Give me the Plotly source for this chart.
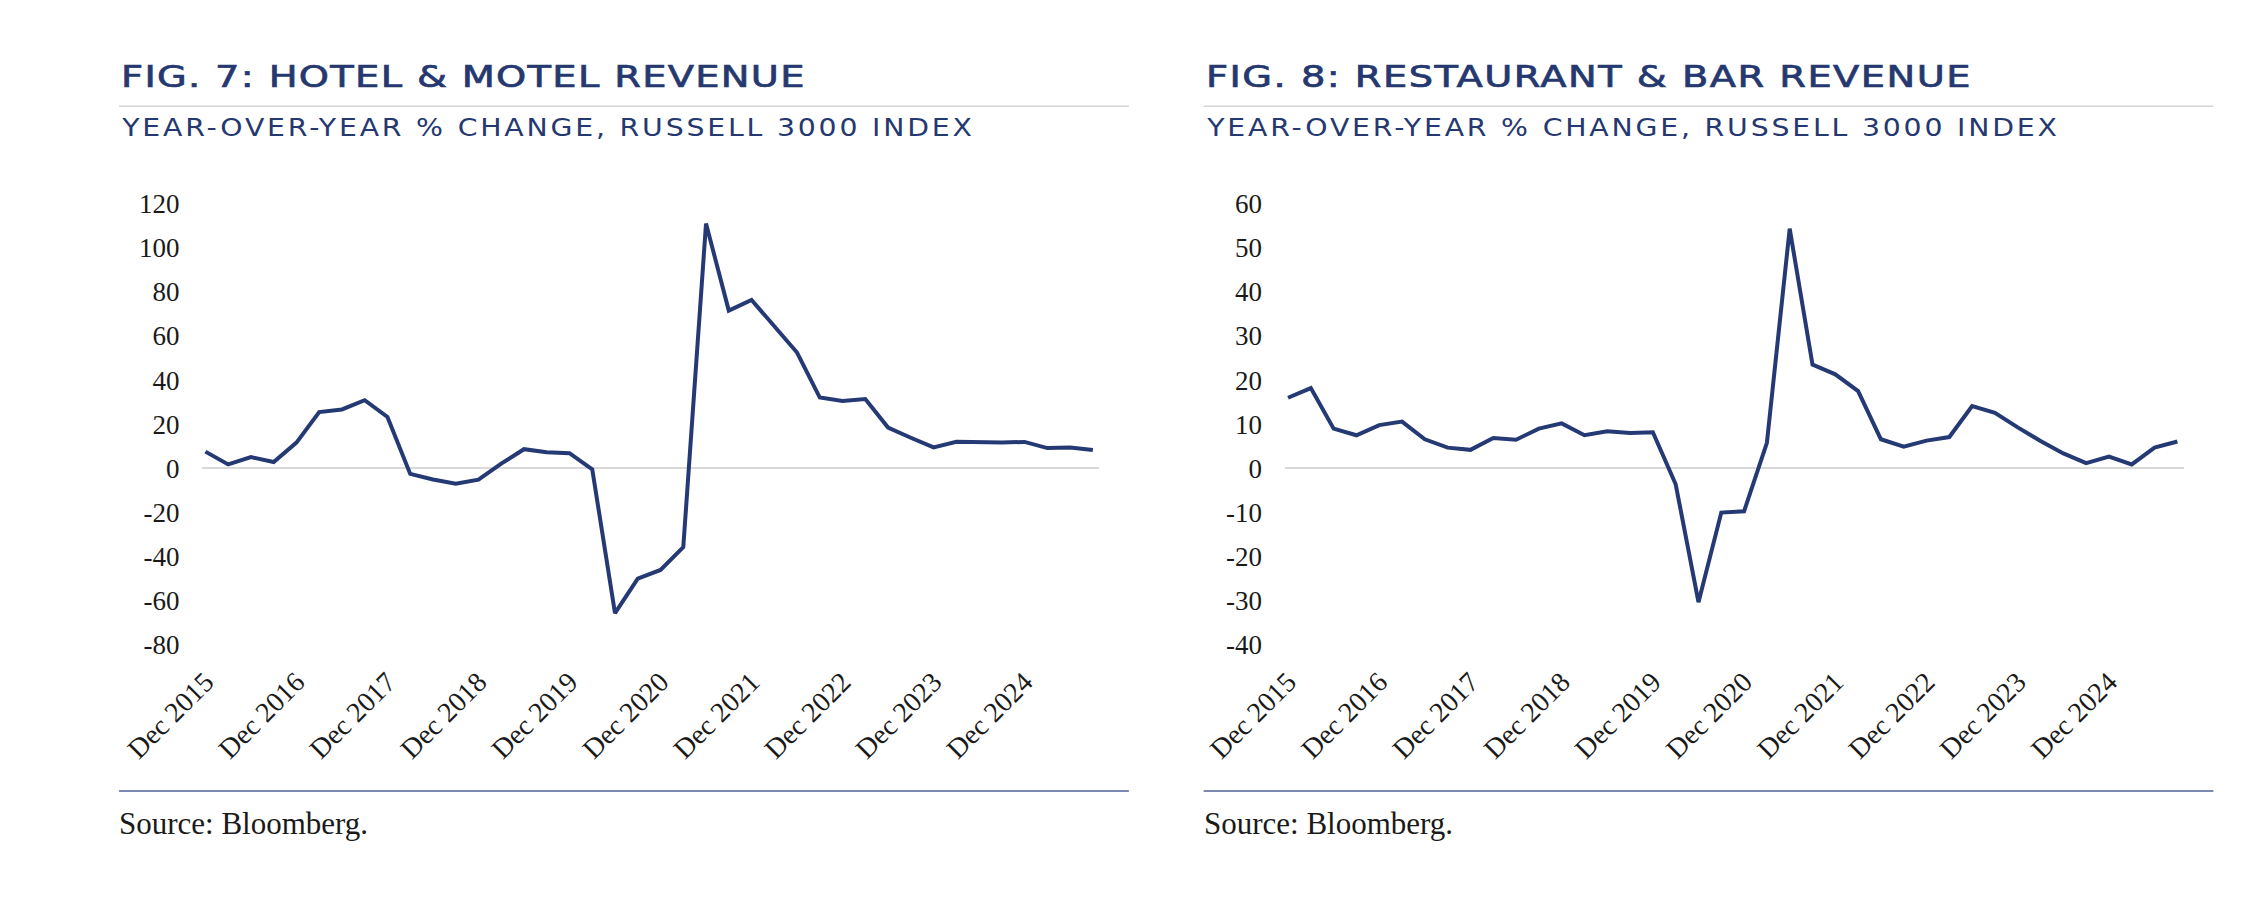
import plotly.graph_objects as go

quarters = [
    "Dec 2015", "Mar 2016", "Jun 2016", "Sep 2016", "Dec 2016", "Mar 2017", "Jun 2017", "Sep 2017",
    "Dec 2017", "Mar 2018", "Jun 2018", "Sep 2018", "Dec 2018", "Mar 2019", "Jun 2019", "Sep 2019",
    "Dec 2019", "Mar 2020", "Jun 2020", "Sep 2020", "Dec 2020", "Mar 2021", "Jun 2021", "Sep 2021",
    "Dec 2021", "Mar 2022", "Jun 2022", "Sep 2022", "Dec 2022", "Mar 2023", "Jun 2023", "Sep 2023",
    "Dec 2023", "Mar 2024", "Jun 2024", "Sep 2024", "Dec 2024", "Mar 2025", "Jun 2025", "Sep 2025",
]
tick_labels = ["Dec 2015", "Dec 2016", "Dec 2017", "Dec 2018", "Dec 2019",
               "Dec 2020", "Dec 2021", "Dec 2022", "Dec 2023", "Dec 2024"]

hotel = [7.6, 1.8, 5.1, 2.9, 11.7, 25.5, 26.7, 30.9, 23.3, -2.5,
         -5.0, -6.9, -5.1, 2.2, 8.7, 7.3, 6.9, -0.4, -65.6, -49.9,
         -46.0, -35.7, 110.9, 71.5, 76.3, 64.5, 52.5, 32.1, 30.5, 31.4,
         18.5, 13.9, 9.5, 12.1, 11.7, 11.7, 12.0, 9.2, 9.5, 8.3]
restaurant = [16.0, 18.2, 9.0, 7.5, 9.8, 10.6, 6.6, 4.7, 4.2, 6.9,
              6.5, 9.0, 10.2, 7.5, 8.4, 8.0, 8.2, -3.6, -30.3, -10.0,
              -9.7, 5.8, 54.3, 23.5, 21.3, 17.5, 6.6, 4.9, 6.3, 7.1,
              14.1, 12.6, 9.3, 6.2, 3.4, 1.2, 2.7, 0.9, 4.7, 6.1]

hotel_yticks = [-80, -60, -40, -20, 0, 20, 40, 60, 80, 100, 120]
rest_yticks = [-40, -30, -20, -10, 0, 10, 20, 30, 40, 50, 60]

titles = ["FIG. 7: HOTEL & MOTEL REVENUE", "FIG. 8: RESTAURANT & BAR REVENUE"]
subtitle = "YEAR-OVER-YEAR % CHANGE, RUSSELL 3000 INDEX"
source = "Source: Bloomberg."

W, H = 2251, 901
NAVY = "#25386f"
LINE = "#253a74"
SERIF = "Liberation Serif"
SANS = "DejaVu Sans"

def px(x):
    return x / W

def py(y):
    return 1 - y / H

fig = go.Figure()
fig.add_trace(go.Scatter(x=quarters, y=hotel, mode="lines",
                         line=dict(color=LINE, width=4), xaxis="x", yaxis="y",
                         showlegend=False))
fig.add_trace(go.Scatter(x=quarters, y=restaurant, mode="lines",
                         line=dict(color=LINE, width=4), xaxis="x2", yaxis="y2",
                         showlegend=False))

ydom = [py(651.7), py(195)]
common_x = dict(type="category", range=[-0.13, 39.27], showgrid=False, zeroline=False,
                showline=False, ticks="", tickvals=tick_labels, ticktext=tick_labels,
                tickangle=-45, tickfont=dict(family=SERIF, size=28, color="#1a1a1a"),
                ticklabelstandoff=14)
common_y = dict(showgrid=False, zeroline=True, zerolinecolor="#d9d9d9", zerolinewidth=1.5,
                showline=False, ticks="", tickfont=dict(family=SERIF, size=27, color="#1a1a1a"),
                ticklabelstandoff=22, domain=ydom)

fig.update_layout(
    width=W, height=H, margin=dict(l=0, r=0, t=0, b=0),
    paper_bgcolor="white", plot_bgcolor="white",
    xaxis=dict(domain=[px(126), px(1056)], anchor="y", **common_x),
    yaxis=dict(anchor="x", range=[-80, 120], tickvals=hotel_yticks,
               ticktext=[str(v) for v in hotel_yticks], **common_y),
    xaxis2=dict(domain=[px(1249), px(2181)], anchor="y2", **common_x),
    yaxis2=dict(anchor="x2", range=[-40, 60], tickvals=rest_yticks,
                ticktext=[str(v) for v in rest_yticks], **common_y),
)

annotations = []
shapes = []
for i, (x0, x1) in enumerate([(39.5, 1087), (1164.5, 2212)]):
    annotations.append(dict(text=titles[i], x=px(x0), y=py(64), xref="paper", yref="paper",
                            xanchor="left", yanchor="middle", align="left", showarrow=False,
                            font=dict(family=SANS, size=30, color=NAVY)))
    annotations.append(dict(text=subtitle, x=px(x0), y=py(116.5), xref="paper", yref="paper",
                            xanchor="left", yanchor="middle", align="left", showarrow=False,
                            font=dict(family=SANS, size=24, color=NAVY)))
    annotations.append(dict(text=source, x=px(x0 - 2), y=py(836), xref="paper", yref="paper",
                            xanchor="left", yanchor="middle", align="left", showarrow=False,
                            font=dict(family=SERIF, size=31, color="#1a1a1a")))
    shapes.append(dict(type="line", xref="paper", yref="paper", x0=px(x0), x1=px(x1),
                       y0=py(94.3), y1=py(94.3), line=dict(color="#d4d4d4", width=1.5)))
    shapes.append(dict(type="line", xref="paper", yref="paper", x0=px(x0), x1=px(x1),
                       y0=py(802.7), y1=py(802.7), line=dict(color="#7d89b3", width=2)))
fig.update_layout(annotations=annotations, shapes=shapes)

post = """
(function(){
  function spec(s){
    if (s.indexOf('FIG. 7') === 0) return [684, 1.28, 0.7];
    if (s.indexOf('FIG. 8') === 0) return [765, 1.28, 0.7];
    if (s.indexOf('YEAR-OVER') === 0) return [850, 1.18, 0];
    return null;
  }
  function apply(){
    document.body.style.margin = '0';
    document.querySelectorAll('text.annotation-text').forEach(function(t){
      var s = t.textContent || '';
      var sp = spec(s);
      if (!sp) return;
      t.removeAttribute('letter-spacing');
      t.removeAttribute('transform');
      var len = t.getComputedTextLength();
      var sx = sp[1];
      if (len * sx > sp[0]) sx = sp[0] / len;
      var ls = (sp[0] / sx - len) / Math.max(1, s.length - 1);
      if (ls > 0) t.setAttribute('letter-spacing', ls.toFixed(2) + 'px');
      var bb = t.getBBox();
      var x0 = bb.x;
      t.setAttribute('transform', 'translate(' + x0 + ',0) scale(' + sx.toFixed(3) + ',1) translate(' + (-x0) + ',0)');
      if (sp[2] > 0) {
        t.style.stroke = '#25386f';
        t.style.strokeWidth = sp[2] + 'px';
      }
    });
  }
  var gd = document.getElementById('{plot_id}');
  if (gd && gd.on) { gd.on('plotly_afterplot', apply); }
  apply();
  setTimeout(apply, 200);
  setTimeout(apply, 800);
})();
"""

fig.write_html("out.html", post_script=post, config={"displayModeBar": False})
